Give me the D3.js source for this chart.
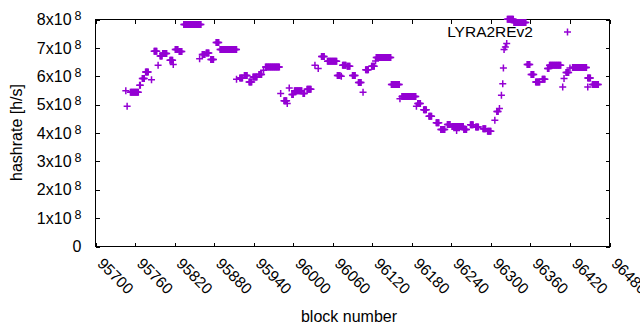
<!DOCTYPE html>
<html>
<head>
<meta charset="utf-8">
<script src="https://cdn.jsdelivr.net/npm/d3@7"></script>
<style>
  body { margin: 0; background: #fff; }
  svg text { font-family: "Liberation Sans", Arial, sans-serif; fill: #000; }
</style>
</head>
<body>
<svg class="chartSVG" width="640" height="330"></svg>
<script>
// runs of blocks with the same hashrate: [first block, last block, hashrate in 1e8 h/s]
const blockRuns = [
  [95746, 95746, 5.49], [95748, 95748, 4.94], [95753, 95765, 5.44], [95767, 95768, 5.68],
  [95771, 95774, 5.92], [95776, 95780, 6.15], [95785, 95785, 5.88], [95789, 95793, 6.88],
  [95795, 95795, 6.39], [95798, 95801, 6.71], [95802, 95808, 6.80], [95813, 95817, 6.56],
  [95818, 95818, 6.41], [95821, 95825, 6.94], [95827, 95831, 6.87], [95834, 95860, 7.82],
  [95858, 95858, 6.62], [95862, 95866, 6.77], [95868, 95872, 6.82], [95875, 95879, 6.59],
  [95883, 95887, 7.19], [95889, 95914, 6.94], [95914, 95914, 5.89], [95919, 95923, 5.94],
  [95926, 95930, 6.03], [95933, 95937, 5.80], [95939, 95945, 5.97], [95948, 95952, 6.06],
  [95955, 95955, 6.21], [95958, 95979, 6.33], [95981, 95981, 5.39], [95986, 95990, 5.14],
  [95991, 95991, 5.04], [95994, 95994, 5.59], [95998, 96000, 5.36], [96002, 96013, 5.49],
  [96015, 96017, 5.39], [96021, 96027, 5.54], [96033, 96033, 6.39], [96038, 96038, 6.27],
  [96043, 96047, 6.70], [96052, 96066, 6.53], [96067, 96071, 6.03], [96073, 96073, 6.00],
  [96075, 96080, 6.39], [96082, 96086, 6.35], [96090, 96094, 6.03], [96099, 96103, 5.78],
  [96106, 96106, 5.44], [96110, 96114, 6.23], [96119, 96123, 6.35], [96125, 96125, 6.54],
  [96126, 96148, 6.66], [96149, 96161, 5.71], [96162, 96162, 5.21], [96165, 96186, 5.29],
  [96187, 96187, 4.94], [96189, 96193, 5.04], [96198, 96202, 4.82], [96206, 96210, 4.59],
  [96217, 96221, 4.36], [96224, 96230, 4.12], [96234, 96238, 4.30], [96241, 96258, 4.23],
  [96248, 96248, 4.09], [96259, 96263, 4.12], [96269, 96273, 4.29], [96277, 96281, 4.21],
  [96288, 96292, 4.15], [96295, 96300, 4.06], [96306, 96306, 4.45], [96309, 96311, 4.76],
  [96313, 96313, 4.86], [96316, 96316, 5.33], [96318, 96318, 5.74], [96319, 96319, 6.29],
  [96320, 96320, 6.94], [96322, 96322, 7.03], [96324, 96324, 7.15], [96325, 96334, 8.01],
  [96335, 96353, 7.89], [96355, 96359, 6.41], [96361, 96365, 6.06], [96368, 96374, 5.80],
  [96378, 96382, 5.89], [96386, 96388, 6.27], [96389, 96406, 6.39], [96409, 96409, 5.62],
  [96411, 96411, 5.92], [96414, 96418, 6.13], [96420, 96420, 6.29], [96424, 96445, 6.31],
  [96447, 96447, 5.62], [96447, 96451, 5.94], [96454, 96463, 5.71]
];

const seriesName = 'LYRA2REv2';
const xTicks = [95700, 95760, 95820, 95880, 95940, 96000, 96060, 96120, 96180, 96240, 96300, 96360, 96420, 96480];
const yTicks = [0, 1, 2, 3, 4, 5, 6, 7, 8];

const svg = d3.select('svg.chartSVG');
const col = '#9400d3';
const fontSize = 15.5;
const tickLen = 4;
const arm = 3.5;

const x = d3.scaleLinear().domain([95700, 96480]).range([95.5, 609.5]);
const y = d3.scaleLinear().domain([0, 8]).range([246.5, 19.5]);

// one point per block
const points = [];
blockRuns.forEach(r => {
  for (let b = r[0]; b <= r[1]; b++) points.push({block: b, rate: r[2]});
});

const crossPath = (cx, cy) => `M${cx - arm},${cy}h${2 * arm}M${cx},${cy - arm}v${2 * arm}`;

// axes
const xAxis = svg.append('g')
  .attr('class', 'x-axis')
  .attr('transform', `translate(0,${y(0)})`)
  .call(d3.axisBottom(x).tickValues(xTicks).tickSizeInner(-tickLen).tickSizeOuter(0).tickFormat(d3.format('d')));

xAxis.selectAll('text')
  .attr('x', 0).attr('y', 0).attr('dy', 0)
  .attr('transform', 'translate(0.5,18) rotate(45)')
  .style('text-anchor', 'start')
  .style('font-size', fontSize + 'px');

svg.append('g')
  .attr('transform', `translate(0,${y(8)})`)
  .call(d3.axisTop(x).tickValues(xTicks).tickSizeInner(-tickLen).tickSizeOuter(0).tickFormat(''));

const yAxis = svg.append('g')
  .attr('class', 'y-axis')
  .attr('transform', `translate(${x(95700)},0)`)
  .call(d3.axisLeft(y).tickValues(yTicks).tickSizeInner(-tickLen).tickSizeOuter(0).tickPadding(14));

yAxis.selectAll('text')
  .style('font-size', '16px')
  .each(function(d) {
    const t = d3.select(this);
    t.text(null);
    if (d === 0) {
      t.text('0');
    } else {
      t.append('tspan').text(`${d}x10`);
      t.append('tspan').attr('dx', 3).attr('dy', -5).style('font-size', '12.5px').text('8');
    }
  });

svg.append('g')
  .attr('transform', `translate(${x(96480)},0)`)
  .call(d3.axisRight(y).tickValues(yTicks).tickSizeInner(-tickLen).tickSizeOuter(0).tickFormat(''));

svg.selectAll('.domain').remove();
svg.selectAll('.tick line').attr('stroke', '#000').style('shape-rendering', 'crispEdges');

// border
svg.append('rect')
  .attr('x', x(95700)).attr('y', y(8))
  .attr('width', x(96480) - x(95700))
  .attr('height', y(0) - y(8))
  .attr('fill', 'none')
  .attr('stroke', '#000')
  .style('shape-rendering', 'crispEdges');

// points
svg.append('g')
  .attr('class', 'points')
  .selectAll('path')
  .data(points)
  .enter()
  .append('path')
  .attr('d', d => crossPath(x(d.block), y(d.rate)))
  .attr('stroke', col)
  .attr('stroke-width', 1.5)
  .attr('fill', 'none');

// axis titles
svg.append('text')
  .attr('x', 349).attr('y', 322)
  .style('text-anchor', 'middle')
  .style('font-size', '16px')
  .text('block number');

svg.append('text')
  .attr('transform', 'translate(22,132.5) rotate(-90)')
  .style('text-anchor', 'middle')
  .style('font-size', '16px')
  .text('hashrate [h/s]');

// legend
svg.append('text')
  .attr('x', 533).attr('y', 37.3)
  .style('text-anchor', 'end')
  .style('font-size', fontSize + 'px')
  .text(seriesName);

svg.append('path')
  .attr('d', crossPath(567.5, 32))
  .attr('stroke', col)
  .attr('stroke-width', 1.5)
  .attr('fill', 'none');
</script>
</body>
</html>
